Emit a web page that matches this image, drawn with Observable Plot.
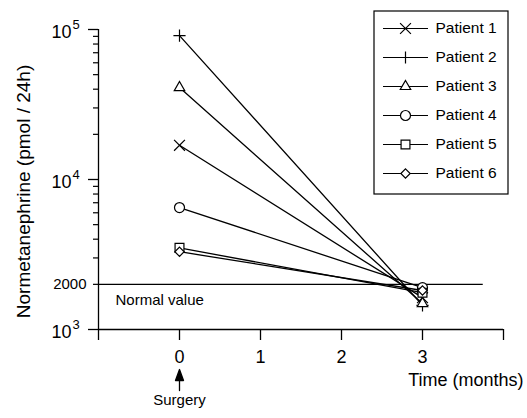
<!DOCTYPE html>
<html><head><meta charset="utf-8">
<script src="https://cdn.jsdelivr.net/npm/d3@7"></script>
<script src="https://cdn.jsdelivr.net/npm/@observablehq/plot@0.6"></script>
<style>
body{margin:0;background:#fff;}
#wrap{position:relative;width:527px;height:418px;overflow:hidden;}
#legend{position:absolute;left:373px;top:10px;}
</style></head><body><div id="wrap"><div id="main"></div><div id="legend"></div></div>
<script>
const patients = ["Patient 1", "Patient 2", "Patient 3", "Patient 4", "Patient 5", "Patient 6"];
const symbols = ["times", "plus", "triangle2", "circle", "square", "diamond2"];
const symbolRadius = [5, 4, 5, 5, 5, 4.2];
const months = [0, 3];
const valuesAtSurgery = [16900, 91000, 41000, 6500, 3500, 3300];
const valuesAt3Months = [1630, 1450, 1490, 1900, 1760, 1820];
const normalValue = 2000;
const normalLineEnd = 3.75;
const xTicks = [-1, 0, 1, 2, 3, 4];
const xTickLabels = ["", "0", "1", "2", "3", ""];
const yMajorTicks = [1000, 10000, 100000];
const yExponents = ["3", "4", "5"];
const yMinorTicks = [2000, 3000, 4000, 5000, 6000, 7000, 8000, 9000, 20000, 30000, 40000, 50000, 60000, 70000, 80000, 90000];
const yLabel = "Normetanephrine (pmol / 24h)";
const xLabel = "Time (months)";
const surgeryLabel = "Surgery";
const normalLabel = "Normal value";

const FONT = '"Liberation Sans", Arial, Helvetica, sans-serif';
const data = patients.flatMap((p, i) => [
  {patient: p, month: months[0], value: valuesAtSurgery[i]},
  {patient: p, month: months[1], value: valuesAt3Months[i]}
]);
const strokeOnly = new Set(["times", "plus"]);

const arrowShape = {
  draw(ctx, l) {
    ctx.moveTo(0, 0); ctx.lineTo(0, -l + 9);
    ctx.moveTo(-4, -l + 11); ctx.lineTo(0, -l); ctx.lineTo(4, -l + 11); ctx.closePath();
  }
};

const dotMarks = patients.map((p, i) => Plot.dot(data.filter(d => d.patient === p), {
  x: "month", y: "value", symbol: () => symbols[i], r: symbolRadius[i],
  fill: strokeOnly.has(symbols[i]) ? "none" : "white", stroke: "black", strokeWidth: 1.2
}));

const main = Plot.plot({
  width: 527, height: 418,
  marginLeft: 98, marginRight: 24, marginTop: 29, marginBottom: 89,
  style: {fontFamily: FONT, background: "white", color: "black", overflow: "visible"},
  x: {domain: [-1, 4], axis: null},
  y: {type: "log", domain: [1000, 100000], axis: null},
  symbol: {type: "identity"},
  marks: [
    Plot.ruleX([-1], {y1: 1000, y2: 100000, stroke: "black", strokeWidth: 1.3}),
    Plot.ruleY([1000], {x1: -1, x2: 4, stroke: "black", strokeWidth: 1.3}),
    Plot.axisY(yMinorTicks, {tickSize: 5, tickFormat: () => "", label: null, strokeWidth: 1.2}),
    Plot.axisY(yMajorTicks, {tickSize: 10, tickFormat: () => "", label: null, strokeWidth: 1.3}),
    Plot.axisX(xTicks, {tickSize: 11, tickPadding: 10, tickFormat: d => xTickLabels[xTicks.indexOf(d)], label: null, fontSize: 18, strokeWidth: 1.3}),
    Plot.text(yMajorTicks, {x: () => -1, y: d => d, text: () => "10", dx: -27, dy: 2.5, textAnchor: "end", fontSize: 18}),
    Plot.text(yMajorTicks, {x: () => -1, y: d => d, text: d => yExponents[yMajorTicks.indexOf(d)], dx: -26, dy: -5, textAnchor: "start", fontSize: 13}),
    Plot.text([normalValue], {x: () => -1, y: d => d, text: d => String(d), dx: -12, textAnchor: "end", fontSize: 15}),
    Plot.ruleY([normalValue], {x1: -1, x2: normalLineEnd, stroke: "black", strokeWidth: 1.2}),
    Plot.text([normalLabel], {x: () => -1, y: () => normalValue, text: d => d, dx: 17, dy: 16, textAnchor: "start", fontSize: 15}),
    Plot.text([yLabel], {frameAnchor: "left", text: d => d, rotate: -90, dx: -75, dy: 12, textAnchor: "middle", fontSize: 19}),
    Plot.text([xLabel], {frameAnchor: "bottom-right", text: d => d, dx: 20, dy: 56, textAnchor: "end", fontSize: 18}),
    Plot.text([surgeryLabel], {x: () => 0, y: () => 1000, text: d => d, dy: 71, fontSize: 15}),
    Plot.vector([0], {x: d => d, y: () => 1000, length: 21, rotate: 0, anchor: "start", dy: 61, shape: arrowShape, stroke: "black", fill: "black", strokeWidth: 1.3}),
    Plot.line(data, {x: "month", y: "value", z: "patient", stroke: "black", strokeWidth: 1.3}),
    ...dotMarks
  ]
});
document.getElementById("main").appendChild(main);

const legendDots = patients.map((p, i) => Plot.dot([p], {
  x: () => 32, y: d => d, symbol: () => symbols[i], r: symbolRadius[i],
  fill: strokeOnly.has(symbols[i]) ? "none" : "white", stroke: "black", strokeWidth: 1.2
}));
const legend = Plot.plot({
  width: 135, height: 184, margin: 0,
  style: {fontFamily: FONT, background: "white", color: "black", overflow: "visible"},
  x: {type: "identity", axis: null},
  y: {type: "point", domain: patients, range: [17, 163], padding: 0, axis: null},
  symbol: {type: "identity"},
  marks: [
    Plot.frame({stroke: "black", strokeWidth: 1.2, inset: 0.5}),
    Plot.ruleY(patients, {y: d => d, x1: () => 10, x2: () => 55, stroke: "black", strokeWidth: 1.2}),
    ...legendDots,
    Plot.text(patients, {x: () => 62, y: d => d, text: d => d, textAnchor: "start", fontSize: 15.5})
  ]
});
document.getElementById("legend").appendChild(legend);
</script>
</body></html>
